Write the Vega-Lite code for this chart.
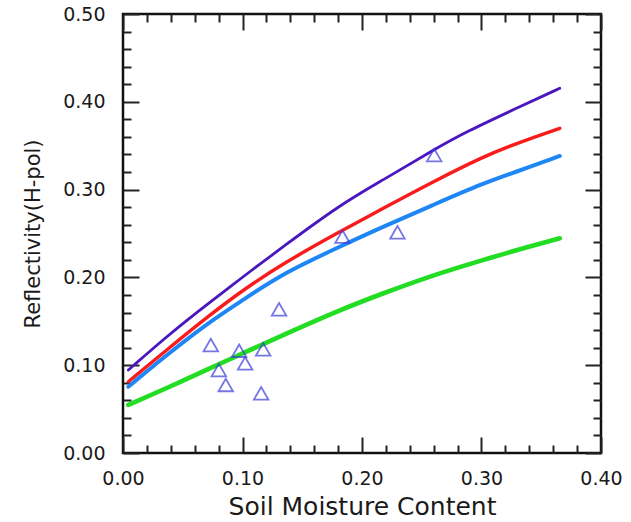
{
  "$schema": "https://vega.github.io/schema/vega-lite/v6.json",
  "width": 478,
  "height": 439,
  "autosize": "none",
  "padding": {"left": 123, "top": 14, "right": 30, "bottom": 69},
  "background": "white",
  "config": {
    "view": {"stroke": "#111", "strokeWidth": 2.5},
    "axis": {
      "grid": false,
      "domain": false,
      "tickColor": "#222",
      "tickWidth": 2,
      "labelFont": "DejaVu Sans",
      "labelFontSize": 19,
      "labelColor": "#1a1a1a",
      "titleFont": "DejaVu Sans",
      "titleFontWeight": "normal",
      "titleColor": "#1a1a1a"
    }
  },
  "datasets": {
    "curves": [
      {"series": "purple", "sm": 0.0045, "r": 0.0945},
      {"series": "purple", "sm": 0.0364, "r": 0.1325},
      {"series": "purple", "sm": 0.0643, "r": 0.1629},
      {"series": "purple", "sm": 0.1005, "r": 0.2008},
      {"series": "purple", "sm": 0.134, "r": 0.235},
      {"series": "purple", "sm": 0.1814, "r": 0.2825},
      {"series": "purple", "sm": 0.2177, "r": 0.311},
      {"series": "purple", "sm": 0.2595, "r": 0.345},
      {"series": "purple", "sm": 0.2874, "r": 0.366},
      {"series": "purple", "sm": 0.3293, "r": 0.3926},
      {"series": "purple", "sm": 0.3655, "r": 0.4154},
      {"series": "red", "sm": 0.0045, "r": 0.0812},
      {"series": "red", "sm": 0.0364, "r": 0.1173},
      {"series": "red", "sm": 0.0726, "r": 0.1572},
      {"series": "red", "sm": 0.1005, "r": 0.1856},
      {"series": "red", "sm": 0.134, "r": 0.216},
      {"series": "red", "sm": 0.1814, "r": 0.252},
      {"series": "red", "sm": 0.2177, "r": 0.2787},
      {"series": "red", "sm": 0.2595, "r": 0.309},
      {"series": "red", "sm": 0.3013, "r": 0.3375},
      {"series": "red", "sm": 0.3293, "r": 0.3527},
      {"series": "red", "sm": 0.3655, "r": 0.3698},
      {"series": "blue", "sm": 0.0045, "r": 0.0755},
      {"series": "blue", "sm": 0.0364, "r": 0.1116},
      {"series": "blue", "sm": 0.0726, "r": 0.1496},
      {"series": "blue", "sm": 0.1005, "r": 0.1743},
      {"series": "blue", "sm": 0.134, "r": 0.2047},
      {"series": "blue", "sm": 0.1814, "r": 0.235},
      {"series": "blue", "sm": 0.2177, "r": 0.2577},
      {"series": "blue", "sm": 0.2595, "r": 0.2825},
      {"series": "blue", "sm": 0.3013, "r": 0.3072},
      {"series": "blue", "sm": 0.3293, "r": 0.3204},
      {"series": "blue", "sm": 0.3655, "r": 0.3383},
      {"series": "green", "sm": 0.0045, "r": 0.0547},
      {"series": "green", "sm": 0.0364, "r": 0.0737},
      {"series": "green", "sm": 0.0726, "r": 0.0965},
      {"series": "green", "sm": 0.1005, "r": 0.1136},
      {"series": "green", "sm": 0.134, "r": 0.1344},
      {"series": "green", "sm": 0.1814, "r": 0.1629},
      {"series": "green", "sm": 0.2177, "r": 0.1819},
      {"series": "green", "sm": 0.2595, "r": 0.2027},
      {"series": "green", "sm": 0.3013, "r": 0.2198},
      {"series": "green", "sm": 0.3293, "r": 0.2312},
      {"series": "green", "sm": 0.3655, "r": 0.2445}
    ],
    "obs": [
      {"sm": 0.0735, "r": 0.123},
      {"sm": 0.0802, "r": 0.0945},
      {"sm": 0.086, "r": 0.0775},
      {"sm": 0.0972, "r": 0.1165},
      {"sm": 0.1022, "r": 0.1022},
      {"sm": 0.1173, "r": 0.1181},
      {"sm": 0.1156, "r": 0.068},
      {"sm": 0.1306, "r": 0.1637},
      {"sm": 0.1837, "r": 0.2464},
      {"sm": 0.2297, "r": 0.2514},
      {"sm": 0.2604, "r": 0.3394}
    ]
  },
  "resolve": {"axis": {"x": "independent", "y": "independent"}},
  "layer": [
    {
      "data": {"name": "curves"},
      "mark": {"type": "line", "interpolate": "basis", "strokeCap": "round"},
      "encoding": {
        "x": {
          "field": "sm", "type": "quantitative",
          "scale": {"domain": [0, 0.4], "nice": false, "zero": false},
          "axis": {
            "orient": "bottom",
            "title": "Soil Moisture Content",
            "titleFontSize": 25,
            "titlePadding": -2,
            "values": [0,0.02,0.04,0.06,0.08,0.1,0.12,0.14,0.16,0.18,0.2,0.22,0.24,0.26,0.28,0.3,0.32,0.34,0.36,0.38,0.4],
            "tickSize": {"expr": "abs(datum.value*10 - round(datum.value*10)) < 0.001 ? -16 : -8"},
            "labelExpr": "abs(datum.value*10 - round(datum.value*10)) < 0.001 ? format(datum.value, '.2f') : ''",
            "labelPadding": 32,
            "labelFlush": false,
            "labelOverlap": false
          }
        },
        "y": {
          "field": "r", "type": "quantitative",
          "scale": {"domain": [0, 0.5], "nice": false, "zero": false},
          "axis": {
            "orient": "left",
            "title": "Reflectivity(H-pol)",
            "titleFontSize": 21,
            "titlePadding": 19,
            "values": [0,0.02,0.04,0.06,0.08,0.1,0.12,0.14,0.16,0.18,0.2,0.22,0.24,0.26,0.28,0.3,0.32,0.34,0.36,0.38,0.4,0.42,0.44,0.46,0.48,0.5],
            "tickSize": {"expr": "abs(datum.value*10 - round(datum.value*10)) < 0.001 ? -16 : -8"},
            "labelExpr": "abs(datum.value*10 - round(datum.value*10)) < 0.001 ? format(datum.value, '.2f') : ''",
            "labelPadding": 34,
            "labelFlush": false,
            "labelOverlap": false
          }
        },
        "color": {
          "field": "series", "type": "nominal", "legend": null,
          "scale": {"domain": ["purple", "red", "blue", "green"], "range": ["#4a16c0", "#fa1c1c", "#1f87f5", "#22dd22"]}
        },
        "strokeWidth": {
          "field": "series", "type": "nominal", "legend": null,
          "scale": {"domain": ["purple", "red", "blue", "green"], "range": [2.8, 4.6, 3.4, 3.3]}
        }
      }
    },
    {
      "data": {"name": "obs"},
      "mark": {"type": "point", "shape": "triangle-up", "size": 210, "filled": false, "stroke": "#3c3cdc", "strokeWidth": 1.8},
      "encoding": {
        "x": {
          "field": "sm", "type": "quantitative",
          "axis": {
            "orient": "top",
            "title": null,
            "labels": false,
            "values": [0,0.02,0.04,0.06,0.08,0.1,0.12,0.14,0.16,0.18,0.2,0.22,0.24,0.26,0.28,0.3,0.32,0.34,0.36,0.38,0.4],
            "tickSize": {"expr": "abs(datum.value*10 - round(datum.value*10)) < 0.001 ? -16 : -8"}
          }
        },
        "y": {
          "field": "r", "type": "quantitative",
          "axis": {
            "orient": "right",
            "title": null,
            "labels": false,
            "values": [0,0.02,0.04,0.06,0.08,0.1,0.12,0.14,0.16,0.18,0.2,0.22,0.24,0.26,0.28,0.3,0.32,0.34,0.36,0.38,0.4,0.42,0.44,0.46,0.48,0.5],
            "tickSize": {"expr": "abs(datum.value*10 - round(datum.value*10)) < 0.001 ? -16 : -8"}
          }
        }
      }
    }
  ]
}
